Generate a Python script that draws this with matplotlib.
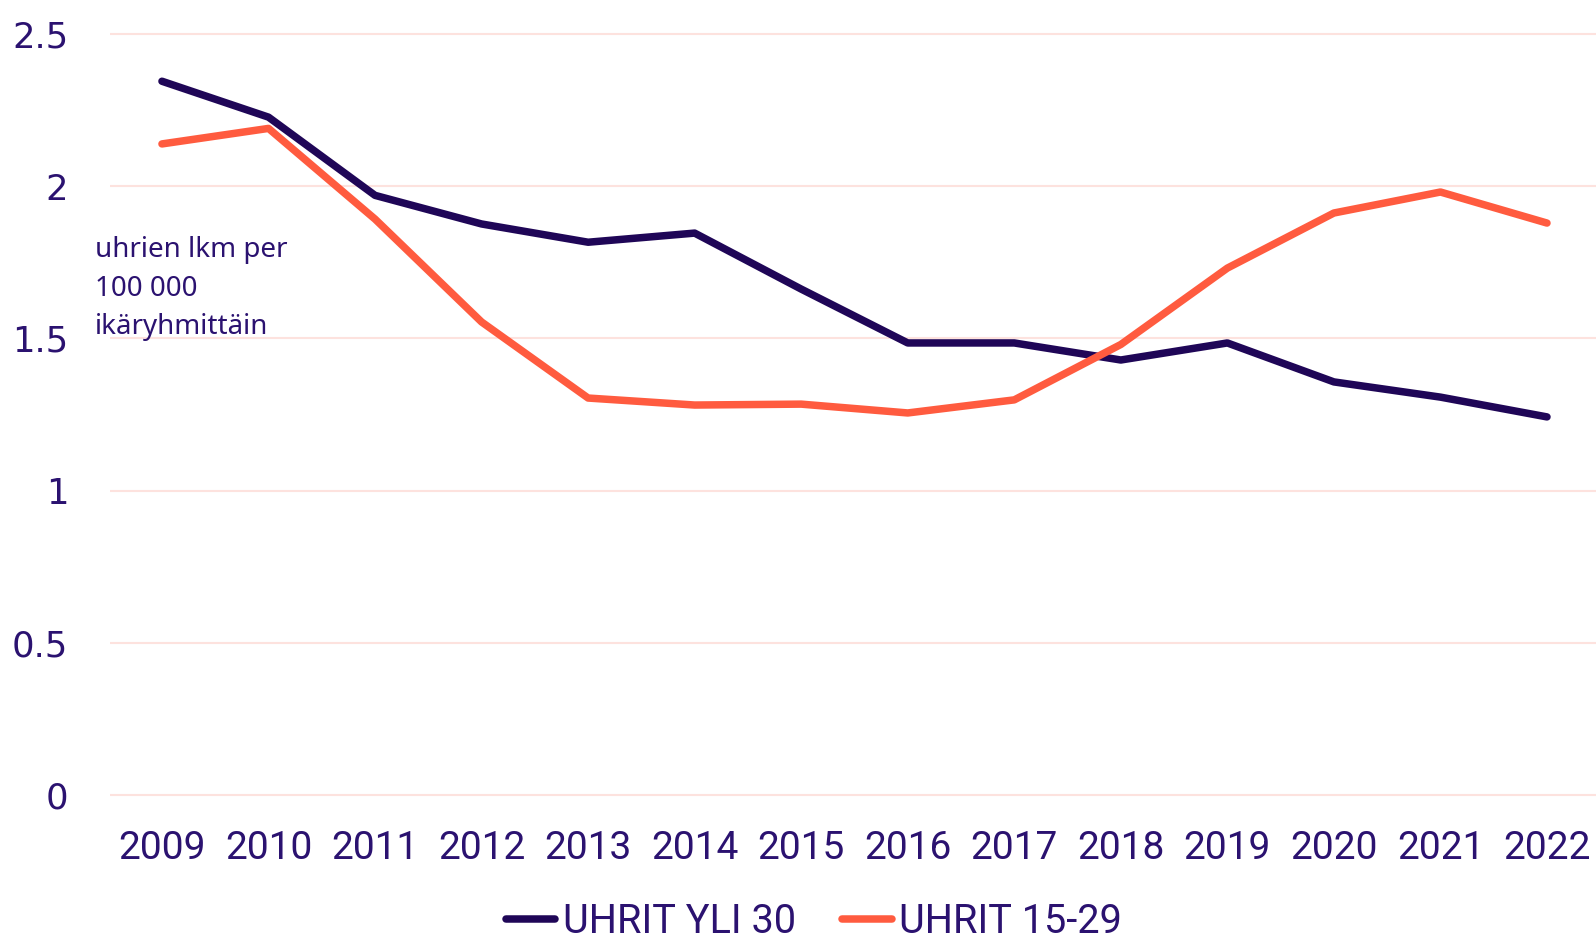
import matplotlib
matplotlib.use("Agg")
import matplotlib.pyplot as plt

years = [2009, 2010, 2011, 2012, 2013, 2014, 2015, 2016, 2017, 2018, 2019, 2020, 2021, 2022]
over30 = [2.345, 2.227, 1.97, 1.876, 1.816, 1.846, 1.662, 1.485, 1.485, 1.429, 1.485, 1.357, 1.307, 1.242]
age15_29 = [2.139, 2.19, 1.892, 1.554, 1.304, 1.281, 1.284, 1.255, 1.298, 1.48, 1.731, 1.912, 1.981, 1.879]
yticks = [0, 0.5, 1, 1.5, 2, 2.5]
ytick_labels = ["0", "0.5", "1", "1.5", "2", "2.5"]
series_labels = ["UHRIT YLI 30", "UHRIT 15-29"]
annotation = "uhrien lkm per\n100 000\nikäryhmittäin"

DARK = "#1f0657"
ORANGE = "#ff5b3f"
TEXT = "#2b1270"
GRID = "#fde2de"

fig = plt.figure(figsize=(15.96, 9.39), dpi=100)
ax = fig.add_axes([0.0689, 0.147, 0.9311, 0.8232])

l1, = ax.plot(years, over30, color=DARK, lw=5.4, solid_capstyle="round", solid_joinstyle="round")
l2, = ax.plot(years, age15_29, color=ORANGE, lw=5.4, solid_capstyle="round", solid_joinstyle="round")

ax.set_xlim(2009 - 0.488, 2022 + 0.46)
ax.set_ylim(-0.02, 2.52)
ax.set_yticks(yticks)
ax.set_yticklabels(ytick_labels)
ax.set_xticks(years)
ax.set_xticklabels([str(y) for y in years])
ax.grid(axis="y", color=GRID, lw=1.5)
ax.set_axisbelow(True)
for s in ax.spines.values():
    s.set_visible(False)
ax.tick_params(axis="both", length=0, colors=TEXT)
ax.tick_params(axis="y", pad=30)
ax.tick_params(axis="x", pad=21)
for t in ax.get_yticklabels():
    t.set_fontfamily("DejaVu Sans")
    t.set_fontsize(25.5)
    t.set_color(TEXT)
for t in ax.get_xticklabels():
    t.set_fontfamily("Roboto")
    t.set_fontsize(28)
    t.set_color(TEXT)

fig.text(95 / 1596, 1 - 236 / 939, annotation, family="Noto Sans", fontsize=20,
         color=TEXT, ha="left", va="top", linespacing=1.5)

leg = fig.legend([l1, l2], series_labels, loc="center", bbox_to_anchor=(0.510, 0.019),
                 ncol=2, frameon=False, handlelength=1.24, handletextpad=0.18,
                 columnspacing=1.18, prop={"family": "Roboto", "size": 28.5})
for t in leg.get_texts():
    t.set_color(TEXT)

fig.savefig("out.png", dpi=100)
